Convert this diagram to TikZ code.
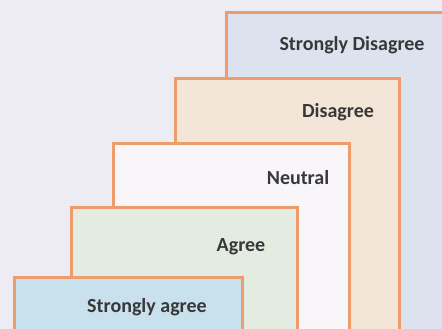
\documentclass[tikz,border=0pt]{standalone}
\usepackage{fontspec}
\setmainfont{Carlito}
\definecolor{bg}{HTML}{EDEBF3}
\definecolor{edge}{HTML}{EE9C6C}
\definecolor{fA}{HTML}{DCE3EE}
\definecolor{fB}{HTML}{F3E5D7}
\definecolor{fC}{HTML}{F8F6F9}
\definecolor{fD}{HTML}{E4ECE2}
\definecolor{fE}{HTML}{C9E1EC}
\definecolor{txt}{HTML}{38383A}
\tikzset{
  stepbox/.style={draw=edge, line width=3pt},
  lbl/.style={font=\bfseries\fontsize{20}{24}\selectfont, text=txt, inner sep=0pt}
}
\begin{document}
\begin{tikzpicture}[x=1pt,y=1pt]
\fill[bg] (0,0) rectangle (442,329);
\useasboundingbox (0,0) rectangle (442,329);
\clip (0,0) rectangle (442,329);
% y_tikz = 329 - y_img
\draw[stepbox, fill=fA] (226,-10) -- (226,316.5) -- (460,316.5) -- (460,-10);
\draw[stepbox, fill=fB] (175,-10) -- (175,250) -- (399,250) -- (399,-10);
\draw[stepbox, fill=fC] (113,-10) -- (113,185) -- (349,185) -- (349,-10);
\draw[stepbox, fill=fD] (71,-10) -- (71,121) -- (297,121) -- (297,-10);
\draw[stepbox, fill=fE] (14,-10) -- (14,51) -- (242,51) -- (242,-10);
\node[lbl] (sd) at (352,284) {Strongly Disagree};
\node[lbl] (d) at (338,217) {Disagree};
\node[lbl] (n) at (298,151) {Neutral};
\node[lbl] (a) at (241,82) {Agree};
\node[lbl] (sa) at (147,22) {Strongly agree};
\end{tikzpicture}
\end{document}
